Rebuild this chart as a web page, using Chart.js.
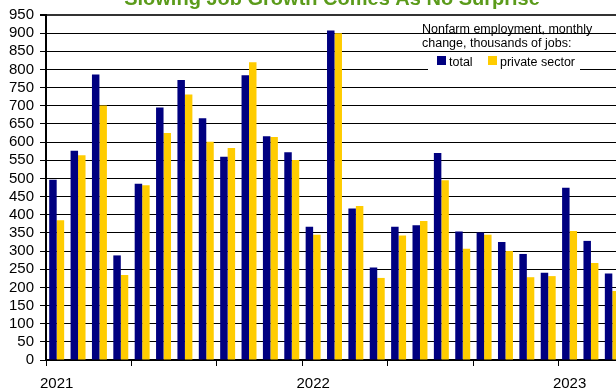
<!DOCTYPE html>
<html>
<head>
<meta charset="utf-8">
<script src="https://cdn.jsdelivr.net/npm/chart.js@4/dist/chart.umd.min.js"></script>
<style>
  html, body { margin: 0; padding: 0; background: #fff; overflow: hidden; width: 616px; height: 391px; }
  #wrap { position: relative; width: 616px; height: 391px; overflow: hidden; }
  canvas { display: block; }
</style>
</head>
<body>
<div id="wrap"><canvas id="c" width="623" height="391"></canvas></div>
<script>
// ---- data ----
const months = [
  'Jan 2021','Feb 2021','Mar 2021','Apr 2021','May 2021','Jun 2021','Jul 2021','Aug 2021','Sep 2021','Oct 2021','Nov 2021','Dec 2021',
  'Jan 2022','Feb 2022','Mar 2022','Apr 2022','May 2022','Jun 2022','Jul 2022','Aug 2022','Sep 2022','Oct 2022','Nov 2022','Dec 2022',
  'Jan 2023','Feb 2023','Mar 2023'
];
const totalJobs   = [496, 576, 786, 288, 485, 695, 771, 666, 560, 784, 616, 572,
                     367, 907, 417, 255, 367, 371, 570, 354, 351, 325, 292, 240,
                     474, 328, 238];
const privateJobs = [385, 564, 701, 234, 481, 625, 731, 601, 584, 820, 614, 551,
                     345, 900, 424, 226, 343, 383, 495, 306, 345, 300, 228, 231,
                     355, 267, 190];
const yearLabels = ['2021', '2022', '2023'];
const seriesNames = ['total', 'private sector'];
const titleText = 'Slowing Job Growth Comes As No Surprise';
const noteLines = ['Nonfarm employment, monthly', 'change, thousands of jobs:'];
const yMin = 0, yMax = 950, yStep = 50;

const BLUE = '#000080';
const YELLOW = '#FFCC00';
const FONT = '"Liberation Sans", Arial, sans-serif';

const overlayPlugin = {
  id: 'overlay',
  afterDraw(chart) {
    const ctx = chart.ctx;
    ctx.save();
    // title (cut off at the top)
    ctx.fillStyle = '#5B9B1B';
    ctx.font = 'bold 20px ' + FONT;
    ctx.textAlign = 'center';
    ctx.textBaseline = 'alphabetic';
    ctx.fillText(titleText, 332, 5);

    // note text
    ctx.fillStyle = '#000';
    ctx.font = '12.5px ' + FONT;
    ctx.textAlign = 'left';
    ctx.fillText(noteLines[0], 422, 33);
    ctx.fillText(noteLines[1], 422, 47);

    // legend box
    ctx.fillStyle = '#fff';
    ctx.fillRect(428, 53, 152, 19);
    const items = [
      {label: seriesNames[0], color: chart.data.datasets[0].backgroundColor, x: 437},
      {label: seriesNames[1], color: chart.data.datasets[1].backgroundColor, x: 488}
    ];
    ctx.font = '12.5px ' + FONT;
    items.forEach(it => {
      ctx.fillStyle = it.color;
      ctx.fillRect(it.x, 56, 9, 9);
      ctx.fillStyle = '#000';
      ctx.fillText(it.label, it.x + 12, 65.5);
    });
    ctx.restore();
  }
};

new Chart(document.getElementById('c'), {
  type: 'bar',
  data: {
    labels: months,
    datasets: [
      { label: seriesNames[0], data: totalJobs, backgroundColor: BLUE, borderWidth: 0,
        categoryPercentage: 0.7, barPercentage: 1.0 },
      { label: seriesNames[1], data: privateJobs, backgroundColor: YELLOW, borderWidth: 0,
        categoryPercentage: 0.7, barPercentage: 1.0 }
    ]
  },
  options: {
    responsive: false,
    animation: false,
    devicePixelRatio: 1,
    layout: { padding: { top: 15, left: 0, right: 0, bottom: 0 } },
    plugins: {
      legend: { display: false },
      title: { display: false },
      tooltip: { enabled: false }
    },
    scales: {
      x: {
        afterFit(scale) { scale.height = 31; },
        grid: {
          offset: true,
          drawOnChartArea: false,
          drawTicks: true,
          tickLength: 6,
          tickColor: (ctx) => (ctx.index % 4 === 0 ? '#000' : 'rgba(0,0,0,0)'),
          color: (ctx) => (ctx.index % 4 === 0 ? '#000' : 'rgba(0,0,0,0)')
        },
        border: { display: true, color: '#000', width: 1.5 },
        ticks: {
          autoSkip: false,
          maxRotation: 0,
          minRotation: 0,
          padding: 9,
          color: '#000',
          font: { family: FONT, size: 15 },
          callback: function(value, index) {
            const lab = months[index];
            if (lab && lab.startsWith('Jan')) {
              const yr = lab.split(' ')[1];
              return yearLabels.includes(yr) ? yr : '';
            }
            return '';
          }
        }
      },
      y: {
        min: yMin,
        max: yMax,
        afterFit(scale) { scale.width = 46; },
        grid: {
          color: (ctx) => (ctx.tick && ctx.tick.value === yMax ? '#333' : '#000'),
          lineWidth: (ctx) => (ctx.tick && ctx.tick.value === yMax ? 2 : 1),
          drawTicks: true,
          tickLength: 6,
          tickColor: '#000'
        },
        border: { display: true, color: '#000', width: 2 },
        ticks: {
          autoSkip: false,
          stepSize: yStep,
          padding: 6,
          color: '#000',
          font: { family: FONT, size: 15, lineHeight: 1.0 }
        }
      }
    }
  },
  plugins: [overlayPlugin]
});
</script>
</body>
</html>
